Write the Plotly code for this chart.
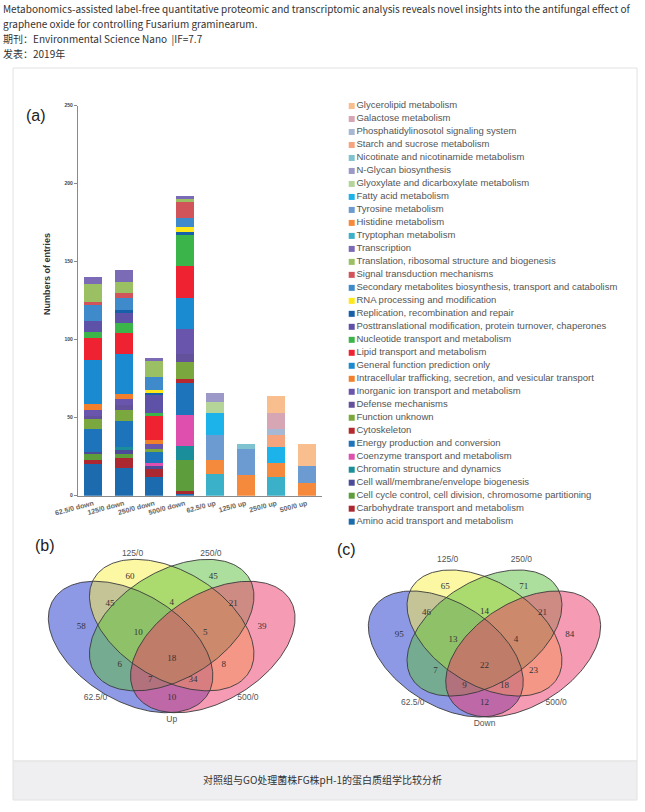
import numpy as np
import plotly.graph_objects as go

W, H = 645, 812

# ---------------- data: panel (a) ----------------
groups = ["62.5/0 down", "125/0 down", "250/0 down", "500/0 down",
          "62.5/0 up", "125/0 up", "250/0 up", "500/0 up"]

# values per group (bottom of the stack listed first)
amino_acid      = [20, 18, 12, 1, 0, 0, 0, 0]
carbohydrate    = [3, 6, 5, 2, 0, 0, 0, 0]
cell_cycle      = [4, 3, 0, 20, 0, 0, 0, 0]
cell_wall       = [1, 2, 2, 0, 0, 0, 0, 0]
chromatin       = [0, 2, 0, 9, 0, 0, 0, 0]
coenzyme        = [0, 0, 2, 20, 0, 0, 0, 0]
energy          = [15, 17, 7, 20, 0, 0, 0, 0]
cytoskeleton    = [0, 0, 0, 3, 0, 0, 0, 0]
function_unknown = [6, 7, 2, 11, 0, 0, 0, 0]
defense         = [2, 3, 0, 5, 0, 0, 0, 0]
inorganic_ion   = [4, 4, 3, 16, 0, 0, 0, 0]
intracellular   = [4, 3, 3, 0, 0, 0, 0, 0]
general_function = [28, 26, 0, 20, 0, 0, 0, 0]
lipid           = [14, 13, 15, 20, 0, 0, 0, 0]
nucleotide      = [4, 7, 2, 20, 0, 0, 0, 0]
posttranslational = [7, 6, 12, 0, 0, 0, 0, 0]
replication     = [0, 2, 1, 2, 0, 0, 0, 0]
rna_processing  = [0, 0, 2, 3, 0, 0, 0, 0]
secondary_metab = [10, 8, 8, 6, 0, 0, 0, 0]
signal_transduction = [2, 3, 0, 10, 0, 0, 0, 0]
translation     = [12, 7, 11, 2, 0, 0, 0, 0]
transcription   = [4, 8, 1, 2, 0, 0, 0, 0]
tryptophan      = [0, 0, 0, 0, 14, 0, 12, 0]
histidine       = [0, 0, 0, 0, 9, 13, 9, 8]
tyrosine        = [0, 0, 0, 0, 16, 17, 0, 11]
fatty_acid      = [0, 0, 0, 0, 14, 0, 10, 0]
glyoxylate      = [0, 0, 0, 0, 7, 0, 0, 0]
n_glycan        = [0, 0, 0, 0, 6, 0, 0, 0]
nicotinate      = [0, 0, 0, 0, 0, 3, 0, 0]
starch_sucrose  = [0, 0, 0, 0, 0, 0, 8, 0]
phosphatidylinositol = [0, 0, 0, 0, 0, 0, 4, 0]
galactose       = [0, 0, 0, 0, 0, 0, 10, 0]
glycerolipid    = [0, 0, 0, 0, 0, 0, 11, 14]

series_names = [
    "Amino acid transport and metabolism",
    "Carbohydrate transport and metabolism",
    "Cell cycle control, cell division, chromosome partitioning",
    "Cell wall/membrane/envelope biogenesis",
    "Chromatin structure and dynamics",
    "Coenzyme transport and metabolism",
    "Energy production and conversion",
    "Cytoskeleton",
    "Function unknown",
    "Defense mechanisms",
    "Inorganic ion transport and metabolism",
    "Intracellular trafficking, secretion, and vesicular transport",
    "General function prediction only",
    "Lipid transport and metabolism",
    "Nucleotide transport and metabolism",
    "Posttranslational modification, protein turnover, chaperones",
    "Replication, recombination and repair",
    "RNA processing and modification",
    "Secondary metabolites biosynthesis, transport and catabolism",
    "Signal transduction mechanisms",
    "Translation, ribosomal structure and biogenesis",
    "Transcription",
    "Tryptophan metabolism",
    "Histidine metabolism",
    "Tyrosine metabolism",
    "Fatty acid metabolism",
    "Glyoxylate and dicarboxylate metabolism",
    "N-Glycan biosynthesis",
    "Nicotinate and nicotinamide metabolism",
    "Starch and sucrose metabolism",
    "Phosphatidylinosotol signaling system",
    "Galactose metabolism",
    "Glycerolipid metabolism",
]
series_values = [
    amino_acid, carbohydrate, cell_cycle, cell_wall, chromatin, coenzyme,
    energy, cytoskeleton, function_unknown, defense, inorganic_ion,
    intracellular, general_function, lipid, nucleotide, posttranslational,
    replication, rna_processing, secondary_metab, signal_transduction,
    translation, transcription, tryptophan, histidine, tyrosine, fatty_acid,
    glyoxylate, n_glycan, nicotinate, starch_sucrose, phosphatidylinositol,
    galactose, glycerolipid,
]
series_colors = [
    "#1D6BAF", "#AB2830", "#5E9D3C", "#4C4B97", "#1A8E9A", "#DE4FAE",
    "#1E74BA", "#B4282E", "#7AA83E", "#64519C", "#6A55AC", "#F27F2B",
    "#1A8BD0", "#EE2230", "#3BB54A", "#5E52A8", "#1560A8", "#FFE81A",
    "#3E8ACB", "#D0545A", "#9BC064", "#7B6AB5", "#3BB0C9", "#F58A3C",
    "#6B9BD1", "#1CB3EA", "#B5D49A", "#9C98C8", "#7FC3D0", "#F5A47E",
    "#A6B8D4", "#D6A6B4", "#F9BE8E",
]

y_ticks = [0, 50, 100, 150, 200, 250]

# ---------------- data: panels (b) and (c) ----------------
venn_regions = ["A", "B", "C", "D", "AB", "BC", "CD", "ABC", "BCD", "ABCD",
                "AC", "BD", "ACD", "ABD", "AD"]
venn_up_counts   = [58, 60, 45, 39, 45, 4, 21, 10, 5, 18, 6, 8, 7, 34, 10]
venn_down_counts = [95, 65, 71, 84, 46, 14, 21, 13, 4, 22, 7, 23, 9, 18, 12]
venn_set_labels = ["62.5/0", "125/0", "250/0", "500/0"]

# ---------------- layout helpers (positions, not data) ----------------
region_pos = {  # in unit Venn coordinates
    "A": (0.17, 0.563), "B": (0.348, 0.79), "C": (0.652, 0.79), "D": (0.83, 0.563),
    "AB": (0.275, 0.668), "BC": (0.5, 0.673), "CD": (0.725, 0.668),
    "ABC": (0.378, 0.536), "BCD": (0.622, 0.536), "ABCD": (0.5, 0.416),
    "AC": (0.31, 0.389), "BD": (0.69, 0.389), "ACD": (0.422, 0.32),
    "ABD": (0.578, 0.32), "AD": (0.5, 0.24),
}
ellipses = [  # cx, cy, semi-major, semi-minor, angle(deg)
    (0.35, 0.47, 0.36, 0.225, -45),
    (0.50, 0.57, 0.36, 0.225, -45),
    (0.50, 0.57, 0.36, 0.225, 45),
    (0.65, 0.47, 0.36, 0.225, 45),
]
ell_fill = ["rgba(50,70,210,0.55)", "rgba(250,240,70,0.5)",
            "rgba(90,190,60,0.5)", "rgba(238,55,105,0.5)"]


def dom_x(v):
    return v / W


def dom_y(v):
    return 1 - v / H


fig = go.Figure()

# stacked bars
for name, vals, col in zip(series_names, series_values, series_colors):
    fig.add_trace(go.Bar(x=groups, y=vals, name=name, marker=dict(color=col, line=dict(width=0)),
                         xaxis="x", yaxis="y", showlegend=False))

# legend built as a marker+text column on the overlay (pixel) axes
leg_names = series_names[::-1]
leg_cols = series_colors[::-1]
leg_y = [106 + 12.99 * i for i in range(len(leg_names))]
fig.add_trace(go.Scatter(
    x=[351.7] * len(leg_names), y=leg_y, mode="markers+text", text=leg_names,
    textposition="middle right",
    textfont=dict(family="Liberation Sans", size=9.5, color="#555555"),
    marker=dict(symbol="square", size=6, color=leg_cols, line=dict(width=0)),
    xaxis="x2", yaxis="y2", showlegend=False, hoverinfo="skip", cliponaxis=False))


def venn(cx_px, by_px, sx, sy, counts, center_label, top_label_y):
    def mp(xr, yr):
        return cx_px + (xr - 0.5) * sx, by_px - (yr - 0.17) * sy
    t = np.linspace(0, 2 * np.pi, 240)
    outlines = []
    for (ecx, ecy, a, b, ang), fc in zip(ellipses, ell_fill):
        r = np.deg2rad(ang)
        xr = ecx + a * np.cos(t) * np.cos(r) - b * np.sin(t) * np.sin(r)
        yr = ecy + a * np.cos(t) * np.sin(r) + b * np.sin(t) * np.cos(r)
        px, py = mp(xr, yr)
        outlines.append((px, py))
        fig.add_trace(go.Scatter(x=px, y=py, mode="lines", fill="toself", fillcolor=fc,
                                 line=dict(width=0, color="rgba(0,0,0,0)"),
                                 xaxis="x2", yaxis="y2", showlegend=False, hoverinfo="skip"))
    for px, py in outlines:
        fig.add_trace(go.Scatter(x=px, y=py, mode="lines", line=dict(width=0.9, color="#3a3a3a"),
                                 xaxis="x2", yaxis="y2", showlegend=False, hoverinfo="skip"))
    nx, ny = [], []
    for reg in venn_regions:
        x_, y_ = mp(*region_pos[reg])
        nx.append(x_)
        ny.append(y_)
    fig.add_trace(go.Scatter(x=nx, y=ny, mode="text", text=[str(c) for c in counts],
                             textfont=dict(family="Liberation Serif", size=9, color="#333333"),
                             xaxis="x2", yaxis="y2", showlegend=False, hoverinfo="skip"))
    label_pos = [(0.222, 0.237), (0.357, top_label_y), (0.643, top_label_y), (0.778, 0.237),
                 (0.5, 0.137)]
    lx, ly = [], []
    for p in label_pos:
        x_, y_ = mp(*p)
        lx.append(x_)
        ly.append(y_)
    fig.add_trace(go.Scatter(x=lx, y=ly, mode="text", text=venn_set_labels + [center_label],
                             textfont=dict(family="Liberation Sans", size=8.5, color="#555555"),
                             xaxis="x2", yaxis="y2", showlegend=False, hoverinfo="skip"))


venn(171.7, 712.7, 274, 219, venn_up_counts, "Up", 0.895)
venn(484.5, 717.0, 258, 210, venn_down_counts, "Down", 0.918)

# ---------------- page decorations ----------------
shapes = [
    dict(type="rect", xref="paper", yref="paper", x0=dom_x(13), x1=dom_x(637),
         y0=dom_y(68), y1=dom_y(761), fillcolor="white",
         line=dict(color="#e2e2e2", width=1), layer="below"),
    dict(type="rect", xref="paper", yref="paper", x0=dom_x(13), x1=dom_x(637),
         y0=dom_y(761), y1=dom_y(800), fillcolor="#efeff1",
         line=dict(color="#e2e2e2", width=1), layer="below"),
]

hdr_font = dict(family="Noto Sans CJK SC", size=10, color="#333333")
annotations = []
for txt, yy in [
    ("Metabonomics-assisted label-free quantitative proteomic and transcriptomic analysis reveals novel insights into the antifungal effect of", 8),
    ("graphene oxide for controlling Fusarium graminearum.", 23),
    ("期刊：Environmental Science Nano  |IF=7.7", 38),
    ("发表：2019年", 53),
]:
    annotations.append(dict(text=txt, x=1, y=yy, xref="x2", yref="y2", xanchor="left",
                            yanchor="middle", showarrow=False, font=hdr_font))
annotations.append(dict(text="对照组与GO处理菌株FG株pH-1的蛋白质组学比较分析", x=322, y=779,
                        xref="x2", yref="y2", xanchor="center", yanchor="middle", showarrow=False,
                        font=dict(family="Noto Sans CJK SC", size=10, color="#333333")))
for txt, xx, yy in [("(a)", 36, 115), ("(b)", 45, 545), ("(c)", 346, 549)]:
    annotations.append(dict(text=txt, x=xx, y=yy, xref="x2", yref="y2", xanchor="center",
                            yanchor="middle", showarrow=False,
                            font=dict(family="Liberation Sans", size=16, color="#222222")))
annotations.append(dict(text="Numbers of entries", x=47, y=274, xref="x2", yref="y2",
                        xanchor="center", yanchor="middle", textangle=-90, showarrow=False,
                        font=dict(family="Liberation Sans", size=9, color="#333333", weight="bold")))

fig.update_layout(
    width=W, height=H, margin=dict(l=0, r=0, t=0, b=0, pad=0, autoexpand=False),
    autosize=False,
    paper_bgcolor="white", plot_bgcolor="rgba(0,0,0,0)",
    barmode="stack", bargap=0.41, showlegend=False,
    shapes=shapes, annotations=annotations,
    xaxis=dict(domain=[dom_x(78), dom_x(322)], range=[-0.5, 7.5], anchor="y", automargin=False,
               showline=True, linecolor="#8a8a8a", linewidth=1.3, ticks="",
               tickangle=-15, showgrid=False, zeroline=False,
               tickfont=dict(family="Liberation Sans", size=7, color="#666666", weight="bold")),
    yaxis=dict(domain=[dom_y(495.7), dom_y(105.7)], range=[0, 250], anchor="x", automargin=False,
               tickvals=y_ticks, showline=True, linecolor="#8a8a8a", linewidth=1.3,
               ticks="outside", ticklen=3, tickcolor="#8a8a8a", showgrid=False, zeroline=False,
               tickfont=dict(family="Liberation Sans", size=5, color="#444444", weight="bold")),
    xaxis2=dict(domain=[0, 1], range=[0, W], visible=False, anchor="y2", fixedrange=True,
                automargin=False),
    yaxis2=dict(domain=[0, 1], range=[H, 0], visible=False, anchor="x2", fixedrange=True,
                automargin=False),
)

fig.write_html("out.html", config={"responsive": False, "displayModeBar": False},
               post_script="document.body.style.margin='0px';document.body.style.padding='0px';")
